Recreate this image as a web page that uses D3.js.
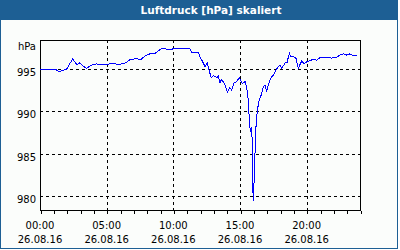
<!DOCTYPE html>
<html lang="de">
<head>
<meta charset="utf-8">
<title>Luftdruck</title>
<script src="https://cdn.jsdelivr.net/npm/d3@7"></script>
<style>
  body { margin: 0; background: #fff; }
  text { font-family: "DejaVu Sans", sans-serif; font-size: 10px; fill: #000; }
  .title { font-weight: bold; font-size: 10.5px; fill: #fff; }
  .grid line { stroke: #000; stroke-dasharray: 3,3; shape-rendering: crispEdges; }
</style>
</head>
<body>
<div id="chart"></div>
<script>
// Stunden seit 00:00 am 26.08.16
var hours = [0, 0.6, 1.12, 1.42, 1.65, 2.0, 2.45, 2.78, 3.0, 3.22, 3.5, 3.9, 4.25, 4.5, 5.0, 5.48, 5.78, 6.15, 6.5, 6.75,
  7.28, 7.5, 7.88, 8.25, 8.63, 8.85, 9.13, 9.5, 9.75, 10.0, 11.25, 11.38, 11.63, 11.87, 12.0, 12.25, 12.38, 12.55, 12.68, 12.83,
  13.0, 13.3, 13.37, 13.5, 13.63, 13.88, 14.05, 14.25, 14.38, 14.55, 14.75, 14.95, 15.05, 15.17, 15.38, 15.5, 15.62, 15.7, 15.75, 15.83,
  15.88, 15.92, 15.95, 16.0, 16.05, 16.1, 16.15, 16.22, 16.3, 16.43, 16.58, 16.75, 16.88, 17.0, 17.12, 17.3, 17.5, 17.75, 18.0, 18.13,
  18.38, 18.53, 18.7, 18.8, 19.0, 19.2, 19.37, 19.63, 19.8, 20.0, 20.25, 20.5, 20.75, 21.0, 21.5, 21.88, 22.25, 22.5, 22.75, 23.0,
  23.25, 23.5, 23.75];
var pressure = [995.0, 995.0, 995.0, 994.7, 994.8, 995.0, 996.2, 995.5, 995.75, 995.35, 995.1, 995.5, 995.6, 995.5, 995.55, 995.7, 995.55, 995.6, 995.8, 996.1,
  996.25, 996.05, 996.55, 996.8, 996.85, 997.1, 997.45, 997.35, 997.25, 997.4, 997.4, 996.95, 996.95, 997.0, 996.45, 995.7, 995.3, 995.7, 994.9, 994.0,
  994.2, 994.0, 994.2, 993.4, 993.8, 993.1, 992.3, 992.8, 992.5, 993.4, 993.5, 994.0, 993.7, 993.3, 993.5, 992.9, 991.3, 989.0, 988.0, 987.6,
  988.1, 986.0, 981.5, 979.4, 981.5, 983.4, 986.6, 988.8, 990.1, 991.3, 991.9, 992.9, 993.1, 992.3, 993.1, 993.9, 994.3, 995.0, 995.5, 995.1,
  995.7, 995.8, 996.85, 996.45, 996.5, 996.25, 995.1, 995.95, 995.6, 995.85, 996.0, 996.15, 996.05, 996.35, 996.35, 996.3, 996.4, 996.65, 996.8, 996.65,
  996.8, 996.55, 996.65];

var yTicks = [980, 985, 990, 995];
var xTicks = [0, 5, 10, 15, 20];
var xTimeLabels = ["00:00", "05:00", "10:00", "15:00", "20:00"];
var dateLabel = "26.08.16";
var titleText = "Luftdruck [hPa] skaliert";
var unitLabel = "hPa";

var W = 400, H = 250;
var margin = { top: 40, right: 40, bottom: 40, left: 40 };
var pw = 320, ph = 170;

var svg = d3.select("#chart").append("svg")
    .attr("width", W).attr("height", H);

// Rahmen und Titelleiste
svg.append("rect")
    .attr("x", 0.5).attr("y", 0.5).attr("width", 397).attr("height", 248)
    .attr("fill", "#fbfdfb").attr("stroke", "#1d5f94");
svg.append("rect")
    .attr("x", 0).attr("y", 0).attr("width", 398).attr("height", 20)
    .attr("fill", "#1d5f94");
svg.append("text").attr("class", "title")
    .attr("x", 211).attr("y", 14).attr("text-anchor", "middle")
    .text(titleText);

var x = d3.scaleLinear().domain([0, 24]).range([0, pw]);
var y = d3.scaleLinear().domain([978.35, 998.43]).range([ph, 0]);

var g = svg.append("g").attr("transform", "translate(" + margin.left + "," + margin.top + ")");

// Gitter
var grid = g.append("g").attr("class", "grid");
grid.selectAll(".hg").data(yTicks).enter().append("line")
    .attr("x1", 0).attr("x2", pw)
    .attr("y1", function(d) { return Math.round(y(d)) + 0.5; })
    .attr("y2", function(d) { return Math.round(y(d)) + 0.5; });
grid.selectAll(".vg").data(xTicks.slice(1)).enter().append("line")
    .attr("y1", 0).attr("y2", ph)
    .attr("x1", function(d) { return Math.round(x(d)) + 0.5; })
    .attr("x2", function(d) { return Math.round(x(d)) + 0.5; });

// Rahmen des Diagramms
g.append("rect")
    .attr("x", 0.5).attr("y", 0.5).attr("width", pw).attr("height", ph)
    .attr("fill", "none").attr("stroke", "#000").attr("shape-rendering", "crispEdges");

// x-Achse mit Stundenstrichen
var xAxis = d3.axisBottom(x).tickValues(d3.range(0, 25)).tickSize(3).tickFormat("");
var ax = g.append("g").attr("transform", "translate(0.5," + (ph + 0.5) + ")").call(xAxis);
ax.select(".domain").remove();
ax.selectAll("line").attr("stroke", "#000").attr("shape-rendering", "crispEdges");

g.selectAll(".xt").data(xTicks).enter().append("text")
    .attr("x", function(d) { return x(d); })
    .attr("y", ph + 19).attr("text-anchor", "middle")
    .text(function(d, i) { return xTimeLabels[i]; });
g.selectAll(".xd").data(xTicks).enter().append("text")
    .attr("x", function(d) { return x(d); })
    .attr("y", ph + 33).attr("text-anchor", "middle")
    .text(dateLabel);

// y-Beschriftung
g.selectAll(".yt").data(yTicks).enter().append("text")
    .attr("x", -4).attr("y", function(d) { return y(d) + 7; })
    .attr("text-anchor", "end")
    .text(function(d) { return d; });
g.append("text").attr("x", -4).attr("y", 10).attr("text-anchor", "end").text(unitLabel);

// Messkurve
var line = d3.line()
    .x(function(d, i) { return x(hours[i]); })
    .y(function(d) { return y(d); });
g.append("path").datum(pressure)
    .attr("d", line)
    .attr("fill", "none")
    .attr("stroke", "#0000ff")
    .attr("stroke-width", 1)
    .attr("shape-rendering", "crispEdges");
</script>
</body>
</html>
